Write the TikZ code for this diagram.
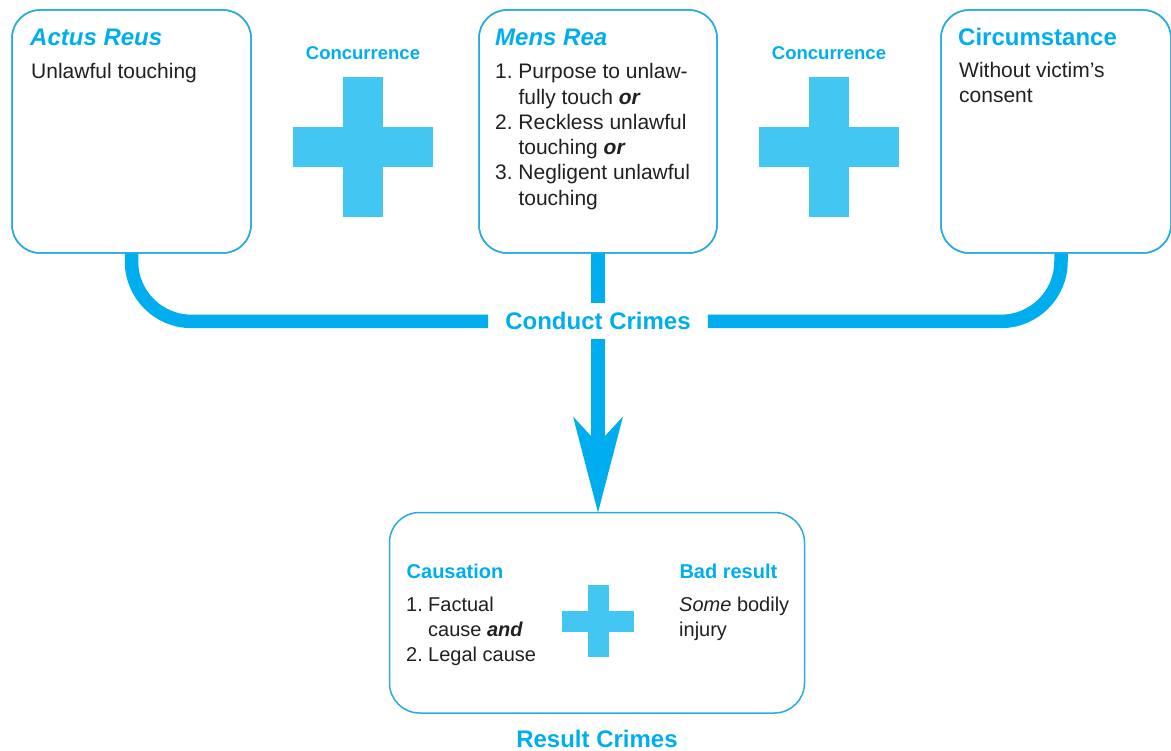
\documentclass[tikz,border=0pt]{standalone}
\usepackage{fontspec}
\setmainfont{Liberation Sans}
\usetikzlibrary{arrows.meta,calc}
\definecolor{boxline}{HTML}{29ABE2}
\definecolor{conncol}{HTML}{00AEEF}
\definecolor{pluscol}{HTML}{43C6F2}
\definecolor{titlecol}{HTML}{00AEEF}
\definecolor{bodycol}{HTML}{231F20}
\begin{document}
\begin{tikzpicture}[x=1pt,y=-1pt,
  box/.style={draw=boxline, line width=1.5pt, rounded corners=28pt, inner sep=0pt, outer sep=0pt, anchor=north west},
  boxframe/.style={draw=boxline, line width=1.5pt, rounded corners=28pt},
  title/.style={anchor=north west, inner sep=0pt, text=titlecol, font=\fontsize{24}{28}\selectfont\bfseries},
  body/.style={anchor=north west, inner sep=0pt, text=bodycol, align=left, font=\fontsize{21}{25.3}\selectfont},
  subtitle/.style={anchor=north west, inner sep=0pt, text=titlecol, font=\fontsize{20}{24}\selectfont\bfseries},
  smallbody/.style={anchor=north west, inner sep=0pt, text=bodycol, align=left, font=\fontsize{20}{25}\selectfont},
  conc/.style={anchor=north, inner sep=0pt, text=titlecol, font=\fontsize{18.5}{22}\selectfont\bfseries},
  conn/.style={draw=conncol, line width=13.5pt},
  pluspart/.style={fill=pluscol}
]
\useasboundingbox (0,0) rectangle (1171,751);

% boxes (positions)
\node[box, minimum width=239pt, minimum height=243pt] (actus) at (12,10) {};
\node[box, minimum width=238pt, minimum height=243pt] (mens) at (479,10) {};
\node[box, minimum width=230pt, minimum height=243pt] (circ) at (941,10) {};
\node[box, rounded corners=30pt, minimum width=415pt, minimum height=200.5pt] (result) at (389.5,512.5) {};

% central label
\node[inner xsep=17pt, inner ysep=9.3pt, text height=17pt, text depth=0pt, text=titlecol,
      font=\fontsize{24}{28}\selectfont\bfseries, anchor=north] (conduct) at (598,303.4) {Conduct Crimes};
\coordinate (cR) at (1061,253);

% connectors
\draw[conn, rounded corners=60pt] (actus.south) -- (actus.south |- conduct.west) -- (conduct.west);
\draw[conn, rounded corners=60pt] (conduct.east) -- (cR |- conduct.east) -- (cR);
\draw[conn] (mens.south) -- (conduct.north);
\draw[conn, -{Stealth[length=96pt, width=50pt, inset=27pt, line width=0pt]}] (conduct.south) -- (conduct.south |- result.north);

% box outlines over the connector ends
\draw[boxframe] (actus.north west) rectangle (actus.south east);
\draw[boxframe] (mens.north west) rectangle (mens.south east);
\draw[boxframe] (circ.north west) rectangle (circ.south east);

% plus signs
\fill[pluspart] (343,77) rectangle (383,217);
\fill[pluspart] (293,127) rectangle (433,167);
\fill[pluspart] (809,77) rectangle (849,217);
\fill[pluspart] (759,127) rectangle (899,167);
\fill[pluspart] (587.5,585) rectangle (608.5,657);
\fill[pluspart] (562,610.5) rectangle (634,631.5);

% concurrence labels
\node[conc] (conc1) at (363,46.7) {Concurrence};
\node[conc] (conc2) at (829,46.7) {Concurrence};

% box texts
\node[title, font=\fontsize{24}{28}\selectfont\bfseries\itshape] (actusT) at (30,28.3) {Actus Reus};
\node[body] (actusB) at (31,63.3) {Unlawful touching};

\node[title, font=\fontsize{24}{28}\selectfont\bfseries\itshape] (mensT) at (495,29) {Mens Rea};
\node[body] (mensB) at (495,63.3) {\makebox[23.3pt][l]{1.}Purpose to unlaw-\\
\hspace*{23.3pt}fully touch \textbf{\textit{or}}\\
\makebox[23.3pt][l]{2.}Reckless unlawful\\
\hspace*{23.3pt}touching \textbf{\textit{or}}\\
\makebox[23.3pt][l]{3.}Negligent unlawful\\
\hspace*{23.3pt}touching};

\node[title] (circT) at (958,28.3) {Circumstance};
\node[body] (circB) at (959,61.7) {Without victim’s\\consent};

\node[subtitle] (causT) at (406.5,564.3) {Causation};
\node[smallbody] (causB) at (406,596.7) {\makebox[22pt][l]{1.}Factual\\
\hspace*{22pt}cause \textbf{\textit{and}}\\
\makebox[22pt][l]{2.}Legal cause};

\node[subtitle] (badT) at (679.3,564.3) {Bad result};
\node[smallbody] (badB) at (679,597) {\textit{Some} bodily\\injury};

\node[anchor=north, inner sep=0pt, text=titlecol, font=\fontsize{24}{28}\selectfont\bfseries] (resT) at (597,730) {Result Crimes};
\end{tikzpicture}
\end{document}
